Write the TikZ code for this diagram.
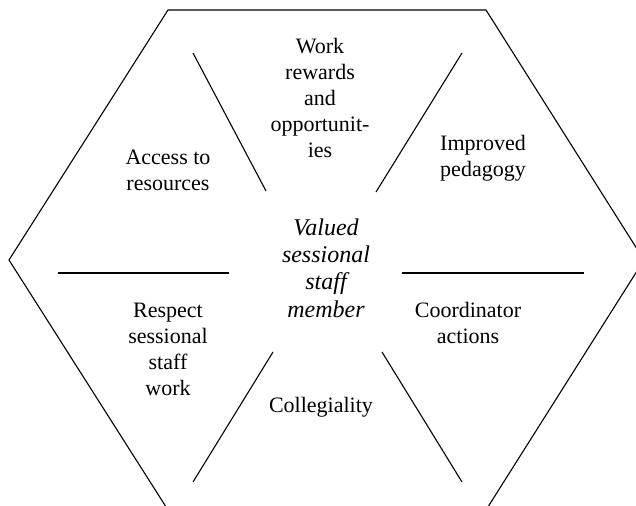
\documentclass[tikz,border=0pt]{standalone}
\usepackage{fontspec}
\setmainfont{Liberation Serif}
\begin{document}
\begin{tikzpicture}[x=0.5pt,y=-0.5pt,
  lbl/.style={align=center,inner sep=0pt,font=\fontsize{11}{13}\selectfont},
  ctr/.style={align=center,inner sep=0pt,font=\fontsize{12}{13.6}\selectfont\itshape},
  edge/.style={line width=0.55pt,black}]
\useasboundingbox (0,0) rectangle (636,506);
\clip (0,0) rectangle (636,506);
% hexagon
\draw[edge] (9,260) -- (168,10) -- (486,10) -- (644,260) -- (486,510) -- (168,510) -- cycle;
% spokes
\draw[edge] (193,53) -- (266,191);
\draw[edge] (462,53) -- (376,192);
\draw[edge] (58,273) -- (229,273);
\draw[edge] (402,273) -- (584,273);
\draw[edge] (273,352) -- (193,482);
\draw[edge] (382,352) -- (462,482);
% labels
\node[lbl] (work) at (320,98) {Work\\rewards\\and\\opportunit-\\ies};
\node[lbl] (access) at (168,170) {Access to\\resources};
\node[lbl] (improved) at (483,158) {Improved\\pedagogy};
\node[ctr] (valued) at (326,268) {Valued\\sessional\\staff\\member};
\node[lbl] (respect) at (168,349) {Respect\\sessional\\staff\\work};
\node[lbl] (coord) at (468,323) {Coordinator\\actions};
\node[lbl] (coll) at (321,407) {Collegiality};
\end{tikzpicture}
\end{document}
